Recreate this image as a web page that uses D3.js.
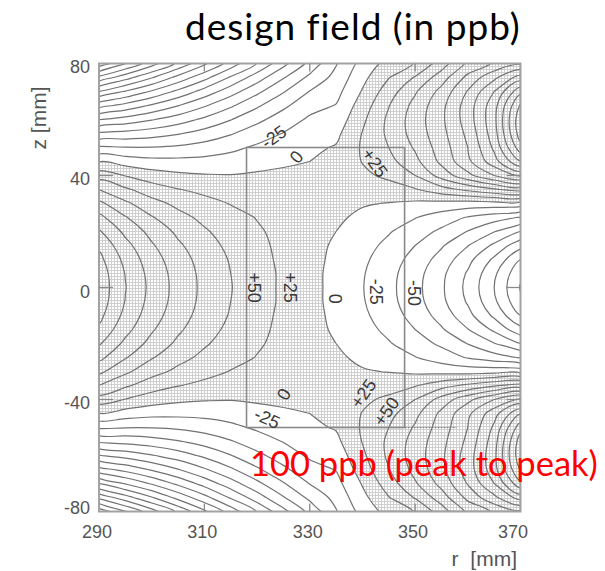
<!DOCTYPE html>
<html><head><meta charset="utf-8">
<script src="https://cdn.jsdelivr.net/npm/d3@7"></script>
<style>html,body{margin:0;padding:0;background:#fff}svg{display:block}</style>
</head><body>
<svg id="chart" width="605" height="571"></svg>
<script>
// Grid of the design field deviation (ppb): columns are r (mm), rows are z (mm) from top to bottom.
const rColumns = [290,295,300,305,310,315,320,325,330,335,340,345,350,355,360,365,370];
const zRows = [80,75,70,65,60,55,50,45,40,35,30,25,20,15,10,5,0,-5,-10,-15,-20,-25,-30,-35,-40,-45,-50,-55,-60,-65,-70,-75,-80];
const fieldRows = [
 [-417,-376,-336,-295,-255,-214,-174,-133,-93,-52,-16,9,26,62,105,128,145],
 [-343,-310,-277,-242,-208,-172,-137,-102,-69,-42,-7,24,52,88,132,169,212],
 [-274,-248,-222,-194,-165,-136,-106,-77,-49,-33,2,38,72,108,152,200,268],
 [-210,-192,-172,-151,-128,-104,-79,-55,-34,-24,12,49,83,118,162,215,303],
 [-151,-140,-127,-112,-95,-76,-56,-38,-21,-15,20,55,87,120,162,218,318],
 [-96,-92,-86,-77,-65,-52,-37,-24,-12,-6,26,55,85,117,156,214,313],
 [-46,-49,-49,-46,-40,-31,-21,-12,-5,2,28,50,78,112,150,205,290],
 [-1,-11,-17,-18,-17,-14,-8,-3,0,7,26,42,68,106,144,190,248],
 [39,24,12,5,2,1,3,4,3,10,20,30,50,85,118,150,180],
 [75,54,37,26,19,14,12,9,5,9,11,15,23,40,56,72,85],
 [106,80,59,44,33,24,19,13,7,7,2,-1,-5,-8,-11,-10,-10],
 [132,102,77,58,44,33,24,16,7,4,-5,-13,-24,-37,-52,-64,-77],
 [153,119,92,70,53,39,28,18,7,0,-10,-23,-38,-55,-76,-99,-125],
 [170,133,103,79,60,44,31,19,7,-3,-16,-31,-50,-72,-99,-130,-167],
 [182,143,111,86,65,48,33,20,7,-5,-20,-38,-59,-85,-117,-155,-200],
 [189,149,116,90,68,50,35,21,7,-7,-23,-42,-65,-94,-128,-170,-220],
 [191,151,118,91,69,51,35,21,7,-7,-24,-43,-67,-96,-132,-175,-227],
 [189,149,116,90,68,50,35,21,7,-7,-23,-42,-65,-94,-128,-170,-220],
 [182,143,111,86,65,48,33,20,7,-5,-20,-38,-59,-85,-117,-155,-200],
 [170,133,103,79,60,44,31,19,7,-3,-16,-31,-50,-72,-99,-130,-167],
 [153,119,92,70,53,39,28,18,7,0,-10,-23,-38,-55,-76,-99,-125],
 [132,102,77,58,44,33,24,16,7,4,-5,-13,-24,-37,-52,-64,-77],
 [106,80,59,44,33,24,19,13,7,7,2,-1,-5,-8,-11,-10,-10],
 [75,54,37,26,19,14,12,9,5,9,11,15,23,40,56,72,85],
 [39,24,12,5,2,1,3,4,3,10,20,30,50,85,118,150,180],
 [-1,-11,-17,-18,-17,-14,-8,-3,0,7,26,42,68,106,144,190,248],
 [-46,-49,-49,-46,-40,-31,-21,-12,-5,2,28,50,78,112,150,205,290],
 [-96,-92,-86,-77,-65,-52,-37,-24,-12,-6,26,55,85,117,156,214,313],
 [-151,-140,-127,-112,-95,-76,-56,-38,-21,-15,20,55,87,120,162,218,318],
 [-210,-192,-172,-151,-128,-104,-79,-55,-34,-24,12,49,83,118,162,215,303],
 [-274,-248,-222,-194,-165,-136,-106,-77,-49,-33,2,38,72,108,152,200,268],
 [-343,-310,-277,-242,-208,-172,-137,-102,-69,-42,-7,24,52,88,132,169,212],
 [-417,-376,-336,-295,-255,-214,-174,-133,-93,-52,-16,9,26,62,105,128,145]
];
const contourLevels = [-425,-400,-375,-350,-325,-300,-275,-250,-225,-200,-175,-150,-125,-100,-75,-50,-25,0,25,50,75,100,125,150,175,200,225,250,275,300,325];
const xTicks = [290, 310, 330, 350, 370];
const yTicks = [80, 40, 0, -40, -80];
// region of interest: r 318–348 mm, z ±50 mm
const boxR = [318, 348];
const boxZ = [-50, 50];

// labelled isolines and where their numbers sit
const contourLabels = [
 {level:-25, r:323.2, z:53.7, angle:-35}, {level:0, r:327.5, z:46.6, angle:-50}, {level:25, r:342.3, z:44.5, angle:55},
 {level:50, r:319.4, z:0, angle:90}, {level:25, r:326.2, z:0, angle:90}, {level:0, r:334.8, z:-4, angle:90},
 {level:-25, r:342.6, z:-1.5, angle:90}, {level:-50, r:349.8, z:-2, angle:90},
 {level:0, r:325.1, z:-38.2, angle:-60}, {level:-25, r:321.9, z:-46.8, angle:25},
 {level:25, r:340.2, z:-37.9, angle:-55}, {level:50, r:344.6, z:-44.3, angle:-55}
];

const nx = rColumns.length, nz = zRows.length;
const grid = fieldRows.flat();

const svg = d3.select("#chart");
const x = d3.scaleLinear().domain([290, 370]).range([99, 520.5]);
const y = d3.scaleLinear().domain([-80, 80]).range([511.5, 63.5]);
const dr = rColumns[1] - rColumns[0], dz = zRows[0] - zRows[1];
// d3.contours places sample i at i + 0.5
const gx = cx => x(rColumns[0] + (cx - 0.5) * dr);
const gy = cy => y(zRows[0] - (cy - 0.5) * dz);

const defs = svg.append("defs");
defs.append("clipPath").attr("id", "plotClip").append("rect")
  .attr("x", x(290)).attr("y", y(80)).attr("width", x(370) - x(290)).attr("height", y(-80) - y(80));
const pat = defs.append("pattern").attr("id", "mesh").attr("patternUnits", "userSpaceOnUse")
  .attr("width", 3).attr("height", 3);
pat.append("path").attr("d", "M0,0.5H3M0.5,0V3").attr("stroke", "#cfcfcf").attr("stroke-width", 1);

const plot = svg.append("g").attr("clip-path", "url(#plotClip)");
const contourGen = d3.contours().size([nx, nz]);
const closedLine = d3.line().x(p => gx(p[0])).y(p => gy(p[1])).curve(d3.curveCatmullRomClosed.alpha(0.5));
const openLine = d3.line().x(p => gx(p[0])).y(p => gy(p[1])).curve(d3.curveCatmullRom.alpha(0.5));

// hatched area where the field is positive
const positive = contourGen.contour(grid, 0);
let dPos = "";
positive.coordinates.forEach(poly => poly.forEach(ring => { dPos += closedLine(ring.slice(0, -1)); }));
plot.append("path").attr("d", dPos).attr("fill", "url(#mesh)").attr("fill-rule", "evenodd");

// split contour rings where they run along the grid border, keeping only the isolines
function onEdge(p) { return p[0] <= 0 || p[0] >= nx || p[1] <= 0 || p[1] >= nz; }
function ringToLines(ring) {
  const pts = ring.slice(0, -1), n = pts.length;
  let start = -1;
  for (let k = 0; k < n; k++) { if (onEdge(pts[k]) && onEdge(pts[(k + 1) % n])) { start = (k + 1) % n; break; } }
  if (start < 0) return [{closed: true, pts}];
  const out = []; let cur = [pts[start]];
  for (let s = 1; s <= n; s++) {
    const prev = pts[(start + s - 1) % n], p = pts[(start + s) % n];
    if (onEdge(prev) && onEdge(p)) { if (cur.length > 1) out.push({closed: false, pts: cur}); cur = [p]; }
    else cur.push(p);
  }
  if (cur.length > 1) out.push({closed: false, pts: cur});
  return out;
}
const lineG = plot.append("g").attr("fill", "none").attr("stroke", "#727272").attr("stroke-width", 1.2);
contourLevels.forEach(v => {
  const c = contourGen.contour(grid, v);
  c.coordinates.forEach(poly => poly.forEach(ring => {
    ringToLines(ring).forEach(seg => {
      lineG.append("path").attr("d", seg.closed ? closedLine(seg.pts) : openLine(seg.pts));
    });
  }));
});

// region-of-interest box
svg.append("rect").attr("x", x(boxR[0])).attr("y", y(boxZ[1]))
  .attr("width", x(boxR[1]) - x(boxR[0])).attr("height", y(boxZ[0]) - y(boxZ[1]))
  .attr("fill", "none").attr("stroke", "#8a8a8a").attr("stroke-width", 1.6);
svg.append("line").attr("x1", x(boxR[1])).attr("x2", x(boxR[1]) + 52).attr("y1", y(boxZ[0])).attr("y2", y(boxZ[0]))
  .attr("stroke", "#7a7a7a").attr("stroke-width", 1).attr("stroke-dasharray", "2,1");

// frame and inner ticks
svg.append("rect").attr("x", x(290)).attr("y", y(80)).attr("width", x(370) - x(290)).attr("height", y(-80) - y(80))
  .attr("fill", "none").attr("stroke", "#a2a2a2").attr("stroke-width", 2);
const tk = svg.append("g").attr("stroke", "#8a8a8a").attr("stroke-width", 1.3);
xTicks.slice(1, -1).forEach(v => {
  tk.append("line").attr("x1", x(v)).attr("x2", x(v)).attr("y1", y(-80)).attr("y2", y(-80) - 8);
  tk.append("line").attr("x1", x(v)).attr("x2", x(v)).attr("y1", y(80)).attr("y2", y(80) + 8);
});
yTicks.slice(1, -1).forEach(v => {
  tk.append("line").attr("x1", x(290)).attr("x2", x(290) + 14).attr("y1", y(v)).attr("y2", y(v));
  tk.append("line").attr("x1", x(370)).attr("x2", x(370) - 14).attr("y1", y(v)).attr("y2", y(v));
});

const font = "'Liberation Sans', Arial, sans-serif";
svg.append("g").selectAll("text").data(xTicks).join("text")
  .attr("x", d => x(d) - (d === 370 ? 7.5 : 2)).attr("y", 538).attr("text-anchor", "middle")
  .attr("font-family", font).attr("font-size", 18).attr("fill", "#555").text(d => d);
const yLabelBase = {"80": 73, "40": 185, "0": 298, "-40": 409, "-80": 514};
svg.append("g").selectAll("text").data(yTicks).join("text")
  .attr("x", 90).attr("y", d => yLabelBase[d]).attr("text-anchor", "end")
  .attr("font-family", font).attr("font-size", 18).attr("fill", "#555").text(d => d);
svg.append("text").attr("transform", "translate(46,118) rotate(-90)").attr("text-anchor", "middle")
  .attr("font-family", font).attr("font-size", 21).attr("fill", "#555").text("z [mm]");
svg.append("text").attr("x", 517).attr("y", 566).attr("text-anchor", "end").attr("word-spacing", 6)
  .attr("font-family", font).attr("font-size", 21).attr("fill", "#555").text("r [mm]");

svg.append("g").selectAll("text").data(contourLabels).join("text")
  .attr("transform", d => `translate(${x(d.r)},${y(d.z)}) rotate(${d.angle})`)
  .attr("text-anchor", "middle").attr("dominant-baseline", "central")
  .attr("font-family", font).attr("font-size", 18).attr("fill", "#3a3a3a")
  .text(d => d.level > 0 ? "+" + d.level : String(d.level));

svg.append("text").attr("x", 185).attr("y", 40).attr("font-family", "Lato, 'Open Sans', sans-serif")
  .attr("font-size", 37).attr("letter-spacing", 1).attr("fill", "#000").text("design field (in ppb)");
svg.append("text").attr("x", 250).attr("y", 476).attr("font-family", "Lato, 'Open Sans', sans-serif")
  .attr("font-size", 34.5).attr("fill", "#ff0000").text("100 ppb (peak to peak)");
</script>
</body></html>
